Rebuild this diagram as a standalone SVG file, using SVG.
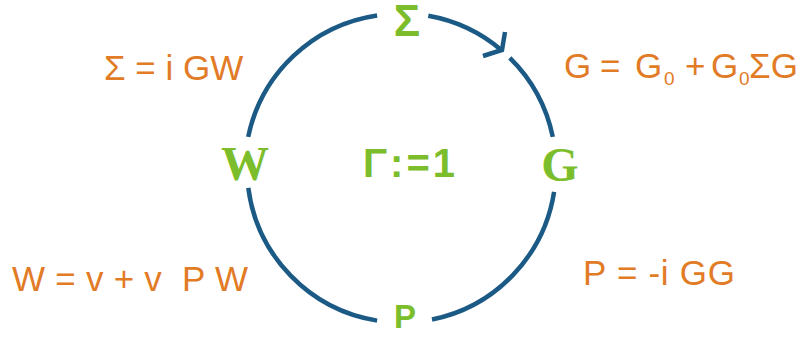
<svg xmlns="http://www.w3.org/2000/svg" width="810" height="347" viewBox="0 0 810 347">
<style>
.arc{fill:none;stroke:#1c5a86;stroke-width:4.5;stroke-linecap:butt;stroke-linejoin:miter}
.node{fill:#7cbd2b;font-weight:bold}
.sans{font-family:"Liberation Sans","DejaVu Sans",sans-serif}
.serif{font-family:"Liberation Serif","DejaVu Serif",serif}
.eq{fill:#e27b26;font-family:"Liberation Sans","DejaVu Sans",sans-serif;font-size:35px}
.sub{font-size:19px}
</style>
<rect width="810" height="347" fill="#ffffff"/>
<g id="connectors">
<path class="arc" d="M428.3,15.8 A154.5,154.5 0 0 1 501.8,50.5"/>
<path class="arc" d="M483,56 L502,50 L505,32"/>
<path class="arc" d="M509.8,57.8 A154.5,154.5 0 0 1 552.8,136.9"/>
<path class="arc" d="M554.1,191.9 A154.5,154.5 0 0 1 432,319.5"/>
<path class="arc" d="M377.1,320.6 A154.5,154.5 0 0 1 248.3,187.9"/>
<path class="arc" d="M248.2,136.9 A154.5,154.5 0 0 1 377.1,15.4"/>
</g>
<g id="node-sigma"><text class="node sans" x="407" y="36" font-size="44" text-anchor="middle">Σ</text></g>
<g id="node-G"><text class="node serif" x="560" y="181" font-size="48" text-anchor="middle">G</text></g>
<g id="node-P"><text class="node sans" x="405" y="328" font-size="33" text-anchor="middle">P</text></g>
<g id="node-W"><text class="node serif" x="245" y="180" font-size="48" text-anchor="middle">W</text></g>
<g id="center-label"><text class="node sans" x="363" y="177" font-size="40" textLength="92" lengthAdjust="spacing">Γ:=1</text></g>
<g id="eq-sigma"><text class="eq" x="104" y="80">Σ = i GW</text></g>
<g id="eq-G"><text class="eq" y="78"><tspan x="564">G</tspan><tspan x="600">=</tspan><tspan x="635">G</tspan><tspan class="sub" x="664" y="85">0</tspan><tspan x="685" y="78">+</tspan><tspan x="711" y="78">G</tspan><tspan class="sub" x="739" y="85">0</tspan><tspan x="749" y="78">ΣG</tspan></text></g>
<g id="eq-W"><text class="eq" x="12" y="291" font-size="37" textLength="236" lengthAdjust="spacing" xml:space="preserve">W = v + v  P W</text></g>
<g id="eq-P"><text class="eq" x="583" y="285" textLength="152" lengthAdjust="spacing">P = -i GG</text></g>
</svg>
